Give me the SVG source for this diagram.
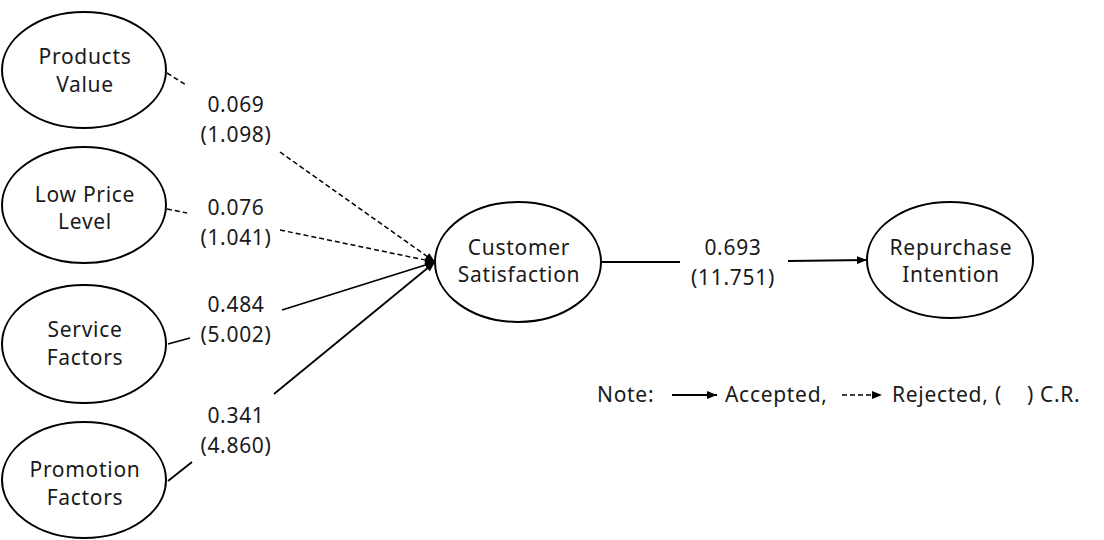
<svg xmlns="http://www.w3.org/2000/svg" width="1104" height="540" viewBox="0 0 1104 540">
<style>
.node ellipse{fill:#fff;stroke:#000;stroke-width:2}
text{font-family:"Noto Sans","Liberation Sans",sans-serif;font-size:21px;letter-spacing:0.7px;fill:#1a1a1a}
.c{text-anchor:middle}
.ln{stroke:#000;stroke-width:1.8;fill:none}
.d{stroke-dasharray:5 3;stroke-width:1.5}
</style>
<defs>
<marker id="ah" viewBox="0 0 10 8" refX="10" refY="4" markerWidth="10" markerHeight="8" markerUnits="userSpaceOnUse" orient="auto">
<path d="M0,0 L10,4 L0,8 Z" fill="#000"/>
</marker>
</defs>
<rect width="1104" height="540" fill="#fff"/>
<g id="connectors">
<line class="ln d" x1="167" y1="73" x2="186" y2="85"/>
<line class="ln d" x1="280" y1="152" x2="435" y2="262" marker-end="url(#ah)"/>
<line class="ln d" x1="167" y1="209" x2="187" y2="213"/>
<line class="ln d" x1="280" y1="230" x2="435" y2="262" marker-end="url(#ah)"/>
<line class="ln" x1="168" y1="344" x2="190" y2="338"/>
<line class="ln" x1="282" y1="310" x2="435" y2="262" marker-end="url(#ah)"/>
<line class="ln" x1="168" y1="481" x2="192" y2="462"/>
<line class="ln" x1="274" y1="394" x2="435" y2="262" marker-end="url(#ah)"/>
<line class="ln" x1="602" y1="262" x2="680" y2="262"/>
<line class="ln" x1="788" y1="261" x2="867" y2="260" marker-end="url(#ah)"/>
</g>
<g id="labels">
<text class="c" x="236" y="112">0.069</text>
<text class="c" x="236" y="142">(1.098)</text>
<text class="c" x="236" y="215">0.076</text>
<text class="c" x="236" y="245">(1.041)</text>
<text class="c" x="236" y="312">0.484</text>
<text class="c" x="236" y="342">(5.002)</text>
<text class="c" x="236" y="423">0.341</text>
<text class="c" x="236" y="453">(4.860)</text>
<text class="c" x="733" y="255">0.693</text>
<text class="c" x="733" y="285">(11.751)</text>
</g>
<g id="products-value" class="node">
<ellipse cx="84" cy="70" rx="82" ry="58"/>
<text class="c" x="85" y="64">Products</text>
<text class="c" x="85" y="92">Value</text>
</g>
<g id="low-price-level" class="node">
<ellipse cx="84" cy="205" rx="82" ry="58"/>
<text class="c" x="85" y="202">Low Price</text>
<text class="c" x="85" y="229">Level</text>
</g>
<g id="service-factors" class="node">
<ellipse cx="84" cy="344" rx="82" ry="59"/>
<text class="c" x="85" y="337">Service</text>
<text class="c" x="85" y="365">Factors</text>
</g>
<g id="promotion-factors" class="node">
<ellipse cx="84" cy="480" rx="82" ry="58"/>
<text class="c" x="85" y="477">Promotion</text>
<text class="c" x="85" y="505">Factors</text>
</g>
<g id="customer-satisfaction" class="node">
<ellipse cx="518" cy="262" rx="83" ry="60"/>
<text class="c" x="519" y="255">Customer</text>
<text class="c" x="519" y="282">Satisfaction</text>
</g>
<g id="repurchase-intention" class="node">
<ellipse cx="950" cy="260" rx="83" ry="58"/>
<text class="c" x="951" y="255">Repurchase</text>
<text class="c" x="951" y="282">Intention</text>
</g>
<g id="legend">
<text x="597" y="402">Note:</text>
<line class="ln" x1="672" y1="395" x2="717" y2="395" stroke-width="1.5" marker-end="url(#ah)"/>
<text x="725" y="402">Accepted,</text>
<line class="ln d" x1="842" y1="395" x2="882" y2="395" stroke-dasharray="3 2" marker-end="url(#ah)"/>
<text x="892" y="402">Rejected,</text>
<text x="995" y="402">(</text>
<text x="1027" y="402">)</text>
<text x="1040" y="402">C.R.</text>
</g>
</svg>
